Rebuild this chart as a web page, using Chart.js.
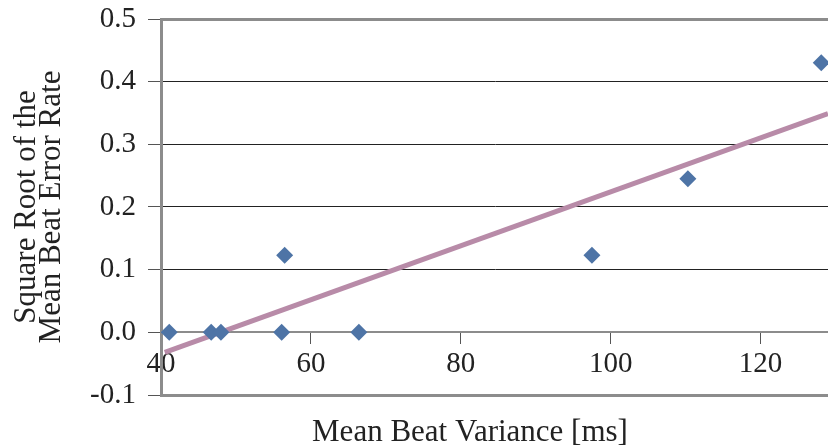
<!DOCTYPE html>
<html>
<head>
<meta charset="utf-8">
<script src="https://cdn.jsdelivr.net/npm/chart.js@4.4.1/dist/chart.umd.min.js"></script>
<style>
  html, body { margin: 0; padding: 0; background: #fff; }
  #wrap { width: 828px; height: 448px; }
</style>
</head>
<body>
<div id="wrap"><canvas id="chart" width="828" height="448"></canvas></div>
<script>
const variance = [41.1, 46.7, 48.0, 56.1, 56.5, 66.4, 97.5, 110.3, 128.1];
const errorRate = [0, 0, 0, 0, 0.123, 0, 0.123, 0.245, 0.43];
const trendX = [40.5, 129];
const trendY = [-0.032, 0.349];
const xTicks = [40, 60, 80, 100, 120];
const yTicks = [-0.1, 0, 0.1, 0.2, 0.3, 0.4, 0.5];
const xTitle = "Mean Beat Variance [ms]";

const family = "'Liberation Serif', 'DejaVu Serif', serif";
const font = { family, size: 29 };
const gray = "#8c8c8c";

// x title sits under the whole plot, a bit left of centre
const xTitlePlugin = {
  id: "xTitle",
  afterDraw(chart) {
    const { ctx } = chart;
    ctx.save();
    ctx.font = `31px ${family}`;
    ctx.fillStyle = "#222";
    ctx.textAlign = "center";
    ctx.textBaseline = "alphabetic";
    ctx.fillText(xTitle, 470, 441);
    ctx.restore();
  },
};

new Chart(document.getElementById("chart"), {
  type: "scatter",
  data: {
    datasets: [
      {
        label: "Error rate",
        data: variance.map((x, i) => ({ x, y: errorRate[i] })),
        pointStyle: "rectRot",
        pointRadius: 8.5,
        pointBorderWidth: 0,
        backgroundColor: "#4e74a6",
        borderColor: "#4e74a6",
        order: 0,
      },
      {
        type: "line",
        label: "Trend",
        data: trendX.map((x, i) => ({ x, y: trendY[i] })),
        borderColor: "#b88ba8",
        borderWidth: 5,
        pointRadius: 0,
        order: 1,
      },
    ],
  },
  plugins: [xTitlePlugin],
  options: {
    responsive: false,
    animation: false,
    layout: { autoPadding: false, padding: { top: 0, right: 0, left: 0, bottom: 53 } },
    plugins: { legend: { display: false }, tooltip: { enabled: false } },
    scales: {
      x: {
        type: "linear",
        position: { y: 0 },
        min: 40,
        max: 129,
        afterBuildTicks: (scale) => {
          scale.ticks = xTicks.map((value) => ({ value }));
        },
        ticks: { font, color: "#222", padding: 4, includeBounds: false },
        grid: { drawOnChartArea: false, drawTicks: true, tickLength: 11, tickColor: "#555", tickWidth: 1 },
        border: { display: true, color: gray, width: 2 },
      },
      y: {
        min: -0.1,
        max: 0.5,
        afterBuildTicks: (scale) => {
          scale.ticks = yTicks.map((value) => ({ value }));
        },
        ticks: {
          font,
          color: "#222",
          padding: 12,
          callback: (v) => Number(v).toFixed(1),
        },
        grid: {
          color: (ctx) => {
            const v = Math.round(ctx.tick.value * 10);
            if (v === -1 || v === 5) return gray;
            if (v === 0) return "rgba(0,0,0,0)";
            return "#222";
          },
          lineWidth: (ctx) => {
            const v = Math.round(ctx.tick.value * 10);
            return v === -1 || v === 5 ? 3 : 1;
          },
          drawTicks: true,
          tickLength: 13,
          tickColor: "#555",
          tickWidth: 1,
        },
        border: { display: true, color: gray, width: 3 },
        title: {
          display: true,
          text: ["Square Root of the", "Mean Beat Error Rate"],
          font: { family, size: 31, lineHeight: 0.82 },
          color: "#222",
          padding: { top: 14, bottom: 0 },
        },
        afterFit: (scale) => {
          scale.width = 161;
          scale.paddingTop = 19;
          scale.paddingBottom = 0;
        },
      },
    },
  },
});
</script>
</body>
</html>
